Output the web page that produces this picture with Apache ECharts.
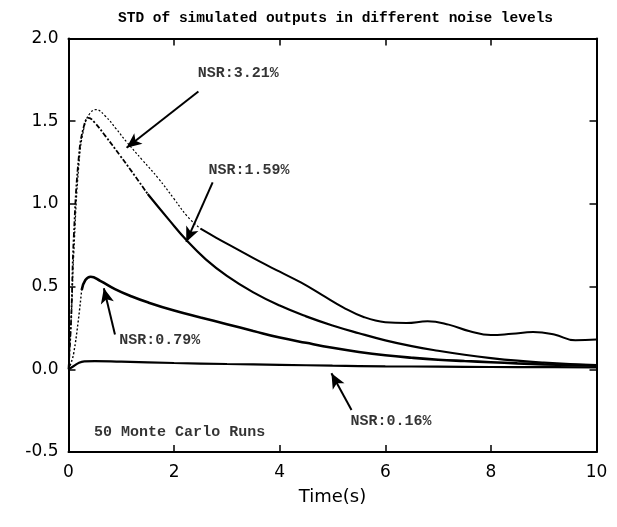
<!DOCTYPE html>
<html><head><meta charset="utf-8">
<script src="https://cdn.jsdelivr.net/npm/echarts@6/dist/echarts.min.js"></script>
<style>html,body{margin:0;padding:0;background:#fff}#c{width:617px;height:527px}</style>
</head><body><div id="c"></div>
<script>
// ---- data ----
const timeA  = [0, 0.05, 0.1, 0.2, 0.3, 0.4, 0.52, 0.7, 0.9, 1.1, 1.4, 1.7, 2.0, 2.25, 2.5, 2.8, 3.2, 3.6, 4.0, 4.4, 4.8, 5.2, 5.6, 6.0, 6.4, 6.8, 7.2, 7.6, 8.0, 8.4, 8.8, 9.2, 9.6, 10];
const nsr321 = [0, 0.3, 0.7, 1.25, 1.47, 1.545, 1.57, 1.53, 1.455, 1.375, 1.265, 1.155, 1.03, 0.925, 0.85, 0.795, 0.725, 0.655, 0.59, 0.525, 0.45, 0.375, 0.315, 0.285, 0.28, 0.29, 0.27, 0.23, 0.207, 0.215, 0.225, 0.21, 0.175, 0.18];
const timeB  = [0, 0.05, 0.1, 0.2, 0.3, 0.38, 0.5, 0.7, 0.97, 1.2, 1.5, 1.9, 2.25, 2.6, 3.0, 3.5, 4.0, 4.5, 5.0, 5.5, 6.0, 6.5, 7.0, 7.5, 8.0, 8.5, 9.0, 9.5, 10];
const nsr159 = [0, 0.3, 0.8, 1.3, 1.48, 1.52, 1.49, 1.41, 1.295, 1.195, 1.06, 0.905, 0.775, 0.665, 0.565, 0.465, 0.385, 0.32, 0.265, 0.218, 0.175, 0.14, 0.112, 0.088, 0.068, 0.052, 0.04, 0.031, 0.025];
const timeC  = [0, 0.05, 0.1, 0.18, 0.25, 0.32, 0.42, 0.6, 0.88, 1.2, 1.5, 2.0, 2.5, 3.0, 3.5, 4.0, 4.5, 5.0, 5.5, 6.0, 6.5, 7.0, 7.5, 8.0, 8.5, 9.0, 9.5, 10];
const nsr079 = [0, 0.04, 0.1, 0.28, 0.48, 0.54, 0.56, 0.535, 0.485, 0.44, 0.405, 0.355, 0.313, 0.273, 0.232, 0.192, 0.16, 0.13, 0.105, 0.085, 0.07, 0.058, 0.05, 0.043, 0.036, 0.03, 0.026, 0.022];
const timeD  = [0, 0.1, 0.2, 0.3, 0.5, 1, 2, 3, 4, 5, 6, 7, 8, 9, 10];
const nsr016 = [0, 0.02, 0.04, 0.048, 0.05, 0.046, 0.038, 0.032, 0.027, 0.022, 0.018, 0.016, 0.014, 0.013, 0.012];
const xTicks = [0, 2, 4, 6, 8, 10];
const yTicks = [-0.5, 0.0, 0.5, 1.0, 1.5, 2.0];
const titleText = 'STD of simulated outputs in different noise levels';
const xName = 'Time(s)';
const noteTexts = ['NSR:3.21%', 'NSR:1.59%', 'NSR:0.79%', 'NSR:0.16%', '50 Monte Carlo Runs'];
const noteX     = [2.45, 2.65, 0.96, 5.34, 0.485];
const noteY     = [1.79, 1.205, 0.177, -0.313, -0.379];
const arrowFrom = [[2.46, 1.68], [2.73, 1.13], [0.88, 0.21], [5.36, -0.246]];
const arrowTo   = [[1.10, 1.34], [2.23, 0.77], [0.67, 0.49], [4.98, -0.024]];

// ---- helpers ----
const zip = (t, v) => t.map((x, i) => [x, v[i]]);
const splitAt = (t, v, ts) => {
  const i = t.indexOf(ts);
  const all = zip(t, v);
  return [all.slice(0, i + 1), all.slice(i)];
};
const [a1, a2] = splitAt(timeA, nsr321, 2.5);
const [b1, b2] = splitAt(timeB, nsr159, 1.5);
const [c1, c2] = splitAt(timeC, nsr079, 0.25);

const lineSeries = (name, data, width, type) => ({
  name, type: 'line', data, showSymbol: false, smooth: 0.45,
  lineStyle: { color: '#000', width, type }, silent: true, animation: false, z: 3
});

const tickStyle = { show: true, inside: true, length: 7, lineStyle: { color: '#000', width: 1.5 } };
const lineStyleAxis = { show: true, onZero: false, lineStyle: { color: '#000', width: 2 } };
const noteFont = { fontFamily: 'Liberation Mono', fontWeight: 'bold', fontSize: 15, color: '#000' };

const chart = echarts.init(document.getElementById('c'), null, { renderer: 'canvas' });
chart.setOption({
  backgroundColor: '#fff',
  animation: false,
  title: {
    text: titleText, left: 113, top: 6,
    textStyle: { fontFamily: 'Liberation Mono', fontWeight: 'bold', fontSize: 14.5, color: '#000' }
  },
  grid: { left: 68.5, right: 20.5, top: 38.5, bottom: 75, containLabel: false },
  xAxis: [{
    type: 'value', min: xTicks[0], max: xTicks[xTicks.length - 1], interval: 2, position: 'bottom',
    name: xName, nameLocation: 'middle', nameGap: 36,
    nameTextStyle: { fontFamily: 'DejaVu Sans', fontSize: 18, color: '#000' },
    axisLine: lineStyleAxis, axisTick: tickStyle,
    axisLabel: { margin: 12, fontFamily: 'DejaVu Sans', fontSize: 17, color: '#000',
      formatter: v => xTicks.includes(v) ? String(v) : '' },
    splitLine: { show: false }
  }, {
    type: 'value', position: 'top', min: 0, max: 10, interval: 2,
    axisLine: lineStyleAxis, axisTick: tickStyle,
    axisLabel: { show: false }, splitLine: { show: false }
  }],
  yAxis: [{
    type: 'value', min: yTicks[0], max: yTicks[yTicks.length - 1], interval: 0.5, position: 'left',
    axisLine: lineStyleAxis, axisTick: tickStyle,
    axisLabel: { margin: 10, fontFamily: 'DejaVu Sans', fontSize: 17, color: '#000',
      formatter: v => v.toFixed(1) },
    splitLine: { show: false }
  }, {
    type: 'value', position: 'right', min: -0.5, max: 2, interval: 0.5,
    axisLine: lineStyleAxis, axisTick: tickStyle,
    axisLabel: { show: false }, splitLine: { show: false }
  }],
  series: [
    lineSeries('NSR:3.21% (a)', a1, 1.2, [2, 2]),
    lineSeries('NSR:3.21% (b)', a2, 2, 'solid'),
    lineSeries('NSR:1.59% (a)', b1, 1.8, [5, 2, 2, 2]),
    lineSeries('NSR:1.59% (b)', b2, 2.2, 'solid'),
    lineSeries('NSR:0.79% (a)', c1, 1.4, [2, 2]),
    lineSeries('NSR:0.79% (b)', c2, 2.6, 'solid'),
    lineSeries('NSR:0.16%', zip(timeD, nsr016), 2.2, 'solid'),
    {
      name: 'notes', type: 'scatter', symbolSize: 0, silent: true, animation: false, z: 5,
      data: noteTexts.map((t, i) => ({ value: [noteX[i], noteY[i]], name: t })),
      label: { show: true, position: 'inside', align: 'left', verticalAlign: 'middle',
        formatter: p => p.name, ...noteFont },
      markLine: {
        silent: true, animation: false, symbol: ['none', 'arrow'], symbolSize: [10, 15],
        label: { show: false },
        lineStyle: { color: '#000', width: 2, type: 'solid' },
        emphasis: { disabled: true },
        data: arrowFrom.map((f, i) => [{ coord: f }, { coord: arrowTo[i] }])
      }
    }
  ]
});
</script>
</body></html>
